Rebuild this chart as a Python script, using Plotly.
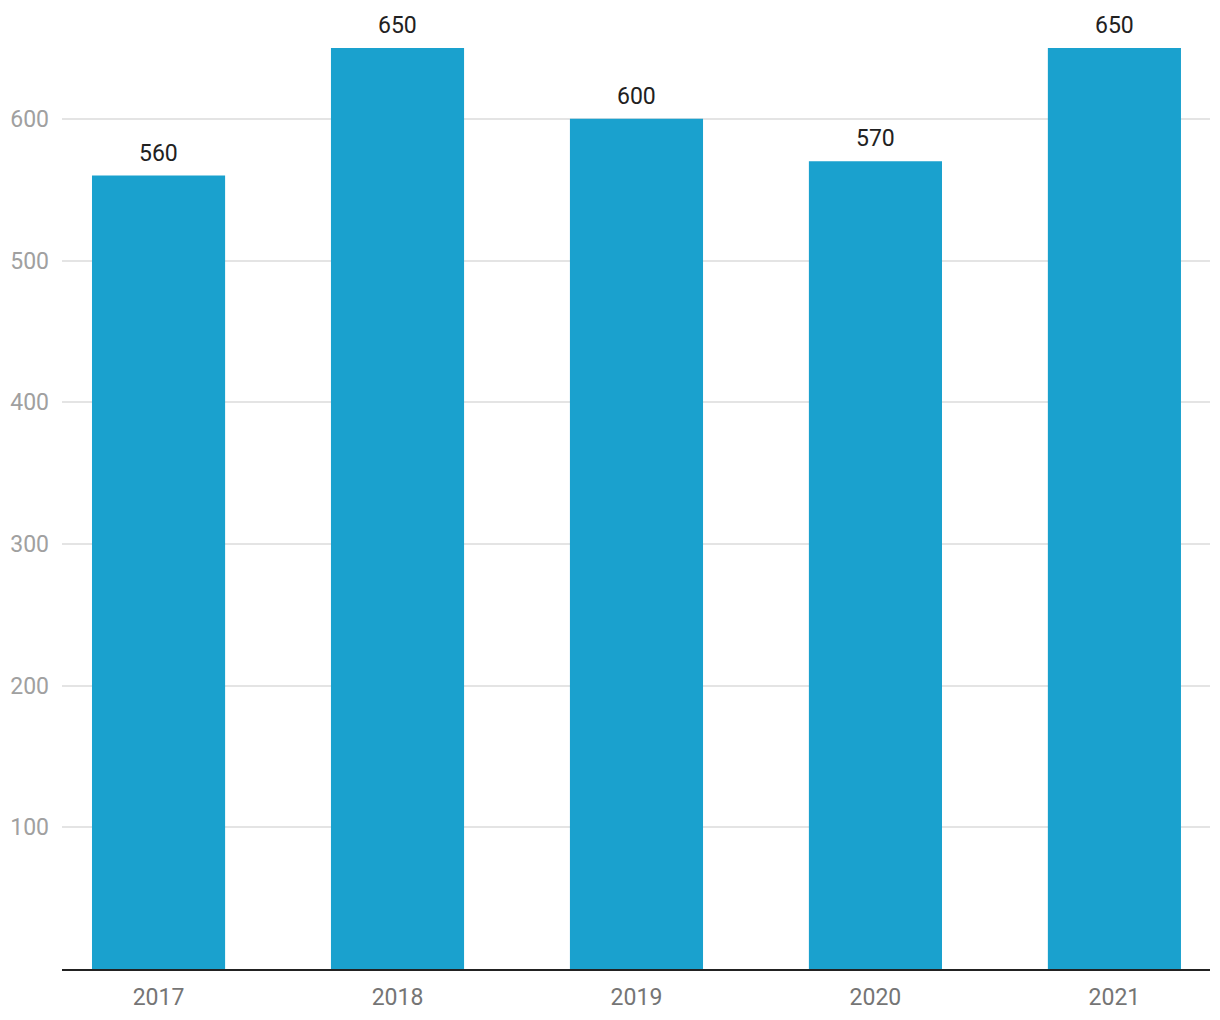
import plotly.graph_objects as go

years = ["2017", "2018", "2019", "2020", "2021"]
values = [560, 650, 600, 570, 650]
y_ticks = [100, 200, 300, 400, 500, 600]

BAR = "#1aa1ce"
FONT = "Roboto"

fig = go.Figure()
fig.add_trace(go.Bar(
    x=years, y=values, marker=dict(color=BAR, line=dict(width=0)),
    width=0.557, hoverinfo="skip", cliponaxis=False,
))

for i, v in enumerate(values):
    fig.add_annotation(x=i, y=v, text=str(v), showarrow=False,
                       xref="x", yref="y",
                       yanchor="bottom", yshift=7,
                       font=dict(family=FONT, size=23, color="#212121"))

# page body has an 8px margin, so the figure is sized to compensate
fig.update_layout(
    width=1212, height=1012,
    margin=dict(l=54, r=10, t=40, b=51, autoexpand=False),
    paper_bgcolor="white", plot_bgcolor="white",
    showlegend=False,
    font=dict(family=FONT),
    xaxis=dict(
        type="category", range=[-0.404, 4.4], automargin=False,
        showgrid=False, showline=True, linecolor="#222222", linewidth=2,
        ticks="", tickfont=dict(size=23, color="#757575"),
        ticklabelstandoff=6, zeroline=False,
    ),
    yaxis=dict(
        range=[0, 650], tickvals=y_ticks, ticktext=[str(t) for t in y_ticks],
        automargin=False,
        showgrid=True, gridcolor="#e4e4e4", gridwidth=1.5,
        showline=False, zeroline=False, ticks="",
        tickfont=dict(size=23, color="#a0a0a0"), ticklabelstandoff=12,
    ),
)

fig.write_html("out.html")
